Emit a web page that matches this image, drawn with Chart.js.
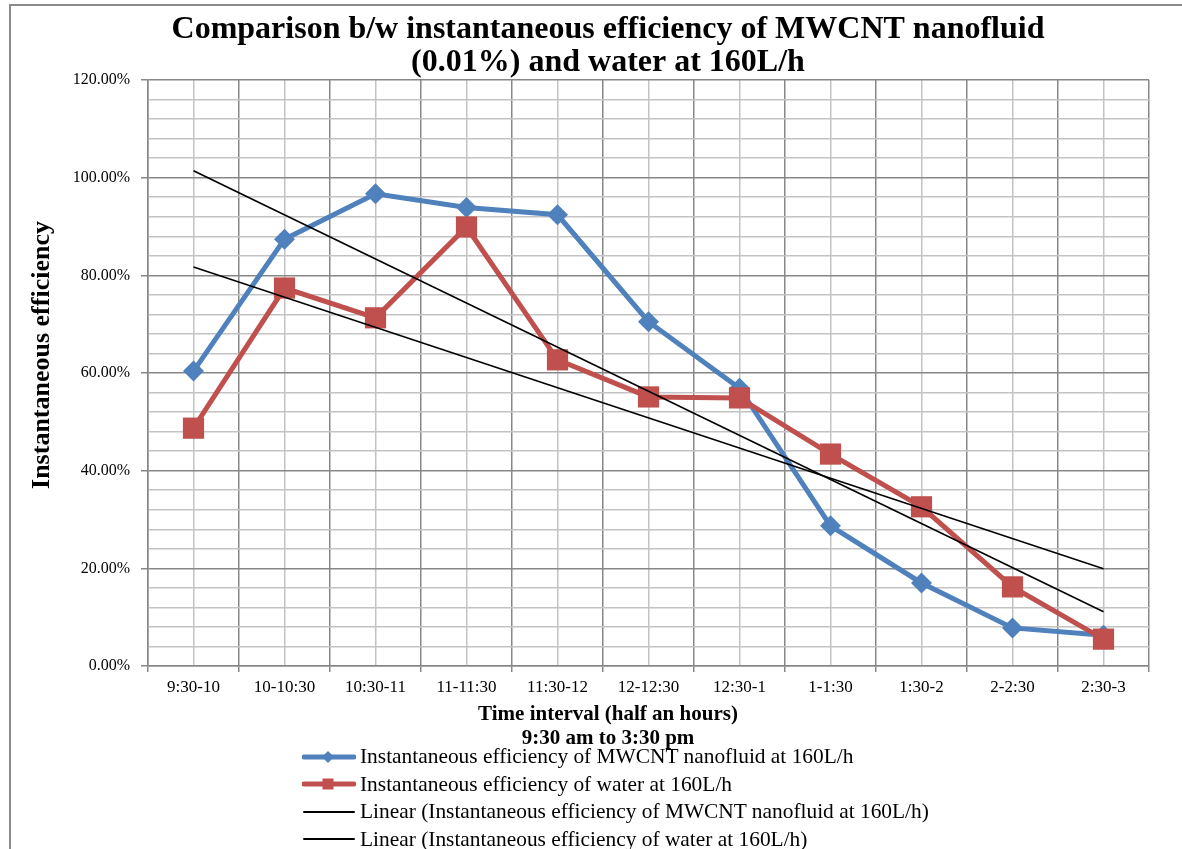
<!DOCTYPE html>
<html>
<head>
<meta charset="utf-8">
<script src="https://cdn.jsdelivr.net/npm/chart.js@4/dist/chart.umd.min.js"></script>
<style>
  html, body { margin:0; padding:0; background:#fff; overflow:hidden; width:1182px; height:849px; }
  #frame { position:absolute; left:9px; top:4px; width:1300px; height:900px; border-left:2px solid #8a8a8a; border-top:2px solid #8a8a8a; }
  #wrap { position:absolute; left:0; top:0; width:1216px; height:849px; }
  #legend { position:absolute; left:302px; top:743px; font-family:"Liberation Serif", "Times New Roman", serif; font-size:21.4px; color:#000; }
  #legend .row { height:27.5px; display:flex; align-items:center; white-space:nowrap; }
  #legend svg { margin-right:4px; }
</style>
</head>
<body>
<div id="frame"></div>
<div id="wrap"><canvas id="chart" width="1216" height="849"></canvas></div>
<div id="legend"></div>
<script>
// 데이터
const categories = ['9:30-10','10-10:30','10:30-11','11-11:30','11:30-12','12-12:30','12:30-1','1-1:30','1:30-2','2-2:30','2:30-3'];
const mwcntEff = [60.4, 87.4, 96.7, 93.9, 92.4, 70.5, 56.9, 28.7, 17.0, 7.8, 6.3];
const waterEff = [48.7, 77.4, 71.3, 89.9, 62.7, 55.1, 54.9, 43.4, 32.6, 16.2, 5.5];
// 추세선 양 끝값
const mwcntTrend = [101.4, null, null, null, null, null, null, null, null, null, 11.1];
const waterTrend = [81.7, null, null, null, null, null, null, null, null, null, 19.9];
const titleLines = ['Comparison b/w instantaneous efficiency of MWCNT nanofluid', '(0.01%) and water at 160L/h'];
const xTitleLines = ['Time interval (half an hours)', '9:30 am to 3:30 pm'];
const yTitle = 'Instantaneous efficiency';
const seriesNames = [
  'Instantaneous efficiency of MWCNT nanofluid at 160L/h',
  'Instantaneous efficiency of water at 160L/h',
  'Linear (Instantaneous efficiency of MWCNT nanofluid at 160L/h)',
  'Linear (Instantaneous efficiency of water at 160L/h)'
];

const BLUE = '#4F81BD', RED = '#C0504D';
const SERIF = '"Liberation Serif", "Times New Roman", serif';
const MAJOR = '#878787', MINOR = '#c3c3c3';

// 제목/축 제목 그리기
const textPlugin = {
  id: 'texts',
  afterDraw(chart){
    const ctx = chart.ctx;
    ctx.save();
    ctx.fillStyle = '#000';
    ctx.textAlign = 'center';
    ctx.textBaseline = 'middle';
    ctx.font = 'bold 32px ' + SERIF;
    ctx.fillText(titleLines[0], 608, 30);
    ctx.fillText(titleLines[1], 608, 63);
    ctx.font = 'bold 21px ' + SERIF;
    ctx.fillText(xTitleLines[0], 608, 715);
    ctx.fillText(xTitleLines[1], 608, 739);
    ctx.translate(42, 355);
    ctx.rotate(-Math.PI/2);
    ctx.font = 'bold 26px ' + SERIF;
    ctx.fillText(yTitle, 0, 0);
    ctx.restore();
  }
};

const ctx = document.getElementById('chart').getContext('2d');
const chart = new Chart(ctx, {
  type: 'line',
  data: {
    labels: categories,
    datasets: [
      { label: seriesNames[0], data: mwcntEff, borderColor: BLUE, backgroundColor: BLUE, borderWidth: 5,
        pointStyle: 'rectRot', pointRadius: 10.5, pointBorderWidth: 0, order: 4, xAxisID: 'x' },
      { label: seriesNames[1], data: waterEff, borderColor: RED, backgroundColor: RED, borderWidth: 5,
        pointStyle: 'rect', pointRadius: 15, pointBorderWidth: 0, order: 3, xAxisID: 'x' },
      { label: seriesNames[2], data: mwcntTrend, borderColor: '#000', borderWidth: 1.6, pointRadius: 0,
        spanGaps: true, order: 2, xAxisID: 'x' },
      { label: seriesNames[3], data: waterTrend, borderColor: '#000', borderWidth: 1.6, pointRadius: 0,
        spanGaps: true, order: 1, xAxisID: 'x' }
    ]
  },
  options: {
    responsive: false,
    animation: false,
    layout: { padding: { left: 0, right: 67, top: 80, bottom: 143 } },
    plugins: { legend: { display: false }, title: { display: false }, tooltip: { enabled: false } },
    scales: {
      x2: {
        type: 'category', position: 'top', offset: true,
        grid: { offset: false, color: MINOR, lineWidth: 1.5, drawTicks: false },
        border: { display: false },
        ticks: { display: false },
        afterFit: s => { s.height = 0; }
      },
      x: {
        type: 'category', position: 'bottom', offset: true,
        grid: { offset: true, color: MAJOR, lineWidth: 1.5, tickLength: 6, tickColor: MAJOR },
        border: { color: MAJOR, width: 1.5 },
        ticks: { color: '#000', font: { family: SERIF, size: 17 }, padding: 5, maxRotation: 0, autoSkip: false },
        afterFit: s => { s.height = 40; }
      },
      y: {
        min: 0, max: 120,
        grid: {
          color: c => (c.tick && c.tick.value % 20 === 0) ? MAJOR : MINOR,
          tickColor: c => (c.tick && c.tick.value % 20 === 0) ? MAJOR : 'rgba(0,0,0,0)',
          lineWidth: 1.5, tickLength: 7
        },
        border: { color: MAJOR, width: 1.5 },
        ticks: {
          stepSize: 4, autoSkip: false, padding: 11, color: '#000',
          font: { family: SERIF, size: 16 },
          callback: v => v % 20 === 0 ? v.toFixed(2) + '%' : ''
        },
        afterFit: s => { s.width = 148; }
      }
    }
  },
  plugins: [textPlugin]
});

// 범례 (HTML)
function sampleSvg(color, width, marker){
  let m = '';
  if(marker === 'diamond') m = `<polygon points="26,4 32,10 26,16 20,10" fill="${color}"/>`;
  if(marker === 'square') m = `<rect x="20.5" y="4.5" width="11" height="11" fill="${color}"/>`;
  return `<svg width="54" height="20"><line x1="2" y1="10" x2="52" y2="10" stroke="${color}" stroke-width="${width}" stroke-linecap="round"/>${m}</svg>`;
}
const legendStyles = [[BLUE,5,'diamond'],[RED,5,'square'],['#000',2,''],['#000',2,'']];
const lg = document.getElementById('legend');
seriesNames.forEach((name, i) => {
  const row = document.createElement('div');
  row.className = 'row';
  const [c, w, m] = legendStyles[i];
  row.innerHTML = sampleSvg(c, w, m) + `<span>${name}</span>`;
  lg.appendChild(row);
});
</script>
</body>
</html>
